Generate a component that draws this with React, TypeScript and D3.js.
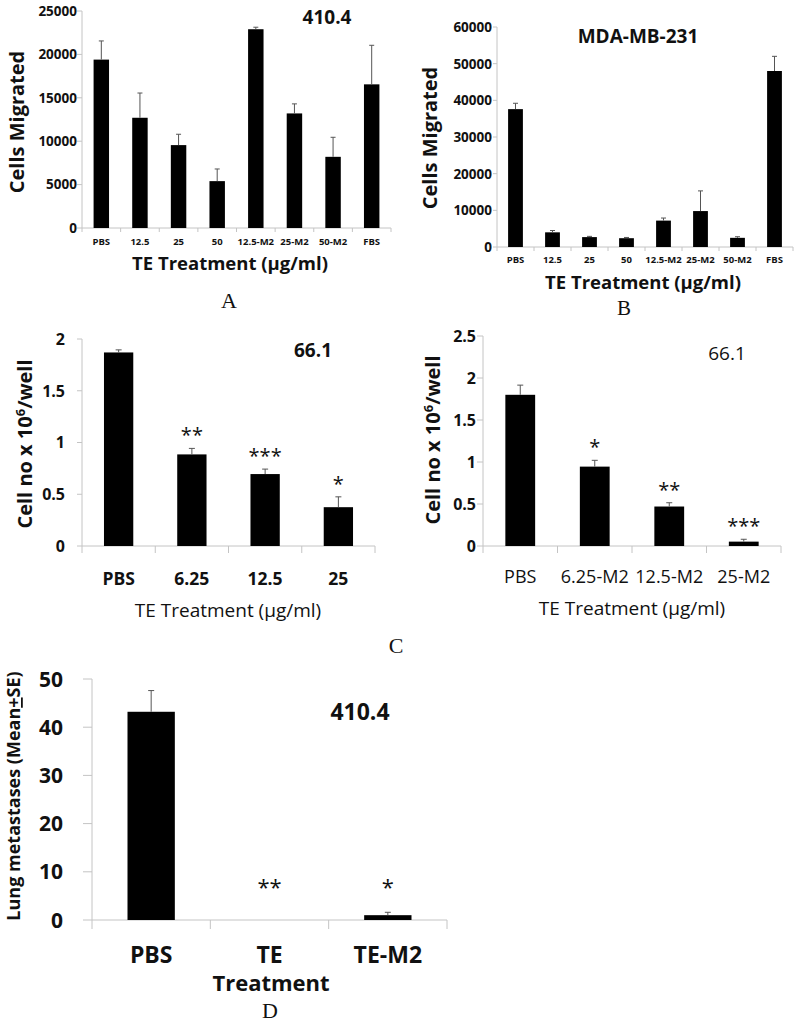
import React from "react";
import * as d3 from "d3";

const FONT = "'Open Sans', 'Noto Sans', sans-serif";
const SERIF = "'Liberation Serif', 'DejaVu Serif', serif";

// ---------- Panel A (410.4 migration) ----------
const aCategories = ["PBS", "12.5", "25", "50", "12.5-M2", "25-M2", "50-M2", "FBS"];
const aValues = [19400, 12700, 9550, 5400, 22900, 13200, 8200, 16550];
const aErrors = [2150, 2850, 1250, 1400, 230, 1100, 2250, 4500];
const aTicks = [0, 5000, 10000, 15000, 20000, 25000];

// ---------- Panel B (MDA-MB-231 migration) ----------
const bCategories = ["PBS", "12.5", "25", "50", "12.5-M2", "25-M2", "50-M2", "FBS"];
const bValues = [37600, 4000, 2700, 2400, 7200, 9800, 2500, 48000];
const bErrors = [1600, 500, 200, 200, 700, 5500, 300, 4000];
const bTicks = [0, 10000, 20000, 30000, 40000, 50000, 60000];

// ---------- Panel C left (66.1, TE) ----------
const c1Categories = ["PBS", "6.25", "12.5", "25"];
const c1Values = [1.87, 0.885, 0.695, 0.375];
const c1Errors = [0.025, 0.058, 0.048, 0.1];
const c1Stars = ["", "**", "***", "*"];
const c1Ticks = [0, 0.5, 1, 1.5, 2];

// ---------- Panel C right (66.1, TE-M2) ----------
const c2Categories = ["PBS", "6.25-M2", "12.5-M2", "25-M2"];
const c2Values = [1.8, 0.945, 0.47, 0.052];
const c2Errors = [0.115, 0.075, 0.045, 0.028];
const c2Stars = ["", "*", "**", "***"];
const c2Ticks = [0, 0.5, 1, 1.5, 2, 2.5];

// ---------- Panel D (lung metastases) ----------
const dCategories = ["PBS", "TE", "TE-M2"];
const dValues = [43.2, 0, 1.0];
const dErrors = [4.4, 0, 0.6];
const dStars = ["", "**", "*"];
const dTicks = [0, 10, 20, 30, 40, 50];

type PanelProps = {
  categories: string[];
  values: number[];
  errors: number[];
  ticks: number[];
  stars?: string[];
  left: number;
  right: number;
  bottom: number;
  top: number;
  yTickLen: number;
  yTickGap: number;
  yTickSize: number;
  yTickWeight: number;
  xTickLen: number;
  xTickY: number;
  xTickSize: number;
  xTickWeight: number;
  starSize?: number;
  starGap?: number;
  starFixed?: number;
  capW: number;
};

function BarPanel(p: PanelProps) {
  const yMax = p.ticks[p.ticks.length - 1];
  const x = d3
    .scaleBand<string>()
    .domain(p.categories)
    .range([p.left, p.right])
    .paddingInner(0.6)
    .paddingOuter(0.3);
  const y = d3.scaleLinear().domain([0, yMax]).range([p.bottom, p.top]);
  const step = x.step();
  const bounds = d3.range(p.categories.length + 1).map((i) => p.left + i * step);
  const axisColor = "#c4c4c4";
  return (
    <g>
      {/* y axis */}
      <line x1={p.left} x2={p.left} y1={y(0)} y2={y(yMax)} stroke={axisColor} strokeWidth={1} />
      {p.ticks.map((t) => (
        <g key={"yt" + t}>
          <line x1={p.left - p.yTickLen} x2={p.left} y1={y(t)} y2={y(t)} stroke={axisColor} strokeWidth={1} />
          <text
            x={p.left - p.yTickGap}
            y={y(t)}
            dy="0.36em"
            textAnchor="end"
            fontFamily={FONT}
            fontSize={p.yTickSize}
            fontWeight={p.yTickWeight}
            fill="#111"
          >
            {String(t)}
          </text>
        </g>
      ))}
      {/* x axis */}
      <line x1={p.left} x2={p.right} y1={y(0)} y2={y(0)} stroke={axisColor} strokeWidth={1} />
      {bounds.map((b, i) => (
        <line key={"xt" + i} x1={b} x2={b} y1={y(0)} y2={y(0) + p.xTickLen} stroke={axisColor} strokeWidth={1} />
      ))}
      {/* bars */}
      {p.categories.map((c, i) => {
        const v = p.values[i];
        const e = p.errors[i];
        const cx = (x(c) as number) + x.bandwidth() / 2;
        return (
          <g key={"b" + c}>
            {v > 0 && (
              <rect x={x(c)} y={y(v)} width={x.bandwidth()} height={y(0) - y(v)} fill="#000" />
            )}
            {e > 0 && (
              <g stroke="#555" strokeWidth={1}>
                <line x1={cx} x2={cx} y1={y(v)} y2={y(v + e)} />
                <line x1={cx - p.capW} x2={cx + p.capW} y1={y(v + e)} y2={y(v + e)} />
              </g>
            )}
            {p.stars && p.stars[i] && (
              <text
                x={cx}
                y={p.starFixed !== undefined ? y(0) - p.starFixed : y(v + e) - (p.starGap || 0)}
                textAnchor="middle"
                fontFamily={FONT}
                fontSize={p.starSize}
                fill="#111"
              >
                {p.stars[i]}
              </text>
            )}
            <text
              x={cx}
              y={p.xTickY}
              textAnchor="middle"
              fontFamily={FONT}
              fontSize={p.xTickSize}
              fontWeight={p.xTickWeight}
              fill="#111"
            >
              {c}
            </text>
          </g>
        );
      })}
    </g>
  );
}

function RotLabel(props: { x: number; y: number; size: number; weight: number; children: React.ReactNode }) {
  return (
    <text
      transform={`translate(${props.x},${props.y}) rotate(-90)`}
      textAnchor="middle"
      fontFamily={FONT}
      fontSize={props.size}
      fontWeight={props.weight}
      fill="#111"
    >
      {props.children}
    </text>
  );
}

function Txt(props: { x: number; y: number; size: number; weight?: number; family?: string; children: React.ReactNode }) {
  return (
    <text
      x={props.x}
      y={props.y}
      textAnchor="middle"
      fontFamily={props.family || FONT}
      fontSize={props.size}
      fontWeight={props.weight || 400}
      fill="#111"
    >
      {props.children}
    </text>
  );
}

export default function App() {
  return (
    <svg
      width={796}
      height={1022}
      style={{ position: "absolute", left: 0, top: 0, background: "#fff" }}
    >
      <rect x={0} y={0} width={796} height={1022} fill="#fff" />

      {/* Panel A */}
      <BarPanel
        categories={aCategories}
        values={aValues}
        errors={aErrors}
        ticks={aTicks}
        left={82}
        right={391}
        bottom={228}
        top={11}
        yTickLen={5}
        yTickGap={5}
        yTickSize={13.5}
        yTickWeight={700}
        xTickLen={4}
        xTickY={245}
        xTickSize={9.5}
        xTickWeight={700}
        capW={2.5}
      />
      <Txt x={327} y={24} size={19} weight={700}>410.4</Txt>
      <Txt x={230} y={270} size={18.5} weight={700}>TE Treatment (µg/ml)</Txt>
      <RotLabel x={24} y={122} size={20} weight={700}>Cells Migrated</RotLabel>
      <Txt x={229} y={308} size={22} family={SERIF}>A</Txt>

      {/* Panel B */}
      <BarPanel
        categories={bCategories}
        values={bValues}
        errors={bErrors}
        ticks={bTicks}
        left={497}
        right={793}
        bottom={247}
        top={27}
        yTickLen={4}
        yTickGap={5}
        yTickSize={13.5}
        yTickWeight={700}
        xTickLen={4}
        xTickY={263}
        xTickSize={9.5}
        xTickWeight={700}
        capW={2.5}
      />
      <Txt x={638} y={43} size={19} weight={700}>MDA-MB-231</Txt>
      <Txt x={643} y={289} size={18.5} weight={700}>TE Treatment (µg/ml)</Txt>
      <RotLabel x={437} y={138} size={20} weight={700}>Cells Migrated</RotLabel>
      <Txt x={624} y={315} size={21} family={SERIF}>B</Txt>

      {/* Panel C left */}
      <BarPanel
        categories={c1Categories}
        values={c1Values}
        errors={c1Errors}
        ticks={c1Ticks}
        stars={c1Stars}
        left={82}
        right={375}
        bottom={546}
        top={339}
        yTickLen={5}
        yTickGap={17}
        yTickSize={16}
        yTickWeight={700}
        xTickLen={7}
        xTickY={585}
        xTickSize={17.5}
        xTickWeight={700}
        starSize={20}
        starGap={6}
        capW={3}
      />
      <Txt x={313} y={357} size={19} weight={700}>66.1</Txt>
      <Txt x={228} y={617} size={19} weight={400}>TE Treatment (µg/ml)</Txt>
      <RotLabel x={32} y={444} size={20} weight={700}>
        Cell no x 10<tspan dy={-7} fontSize={13}>6</tspan>
        <tspan dy={7}>/well</tspan>
      </RotLabel>
      <Txt x={396} y={653} size={22} family={SERIF}>C</Txt>

      {/* Panel C right */}
      <BarPanel
        categories={c2Categories}
        values={c2Values}
        errors={c2Errors}
        ticks={c2Ticks}
        stars={c2Stars}
        left={483}
        right={781}
        bottom={546}
        top={336}
        yTickLen={6}
        yTickGap={7}
        yTickSize={16}
        yTickWeight={700}
        xTickLen={7}
        xTickY={583}
        xTickSize={18}
        xTickWeight={400}
        starSize={20}
        starGap={6}
        capW={3}
      />
      <Txt x={727} y={360} size={19} weight={400}>66.1</Txt>
      <Txt x={632} y={615} size={19} weight={400}>TE Treatment (µg/ml)</Txt>
      <RotLabel x={440} y={440} size={20} weight={700}>
        Cell no x 10<tspan dy={-7} fontSize={13}>6</tspan>
        <tspan dy={7}>/well</tspan>
      </RotLabel>

      {/* Panel D */}
      <BarPanel
        categories={dCategories}
        values={dValues}
        errors={dErrors}
        ticks={dTicks}
        stars={dStars}
        left={92}
        right={447}
        bottom={920}
        top={679}
        yTickLen={9}
        yTickGap={29}
        yTickSize={21}
        yTickWeight={700}
        xTickLen={9}
        xTickY={963}
        xTickSize={23}
        xTickWeight={700}
        starSize={22}
        starFixed={25}
        capW={3}
      />
      <Txt x={360} y={720} size={23} weight={700}>410.4</Txt>
      <Txt x={271} y={991} size={22} weight={700}>Treatment</Txt>
      <RotLabel x={20} y={796} size={18} weight={700}>
        Lung metastases (Mean<tspan textDecoration="underline">+</tspan>SE)
      </RotLabel>
      <Txt x={270} y={1018} size={22} family={SERIF}>D</Txt>
    </svg>
  );
}
